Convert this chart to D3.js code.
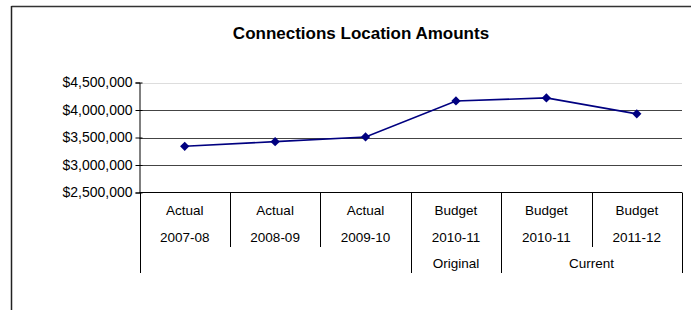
<!DOCTYPE html>
<html>
<head>
<meta charset="utf-8">
<script src="https://cdn.jsdelivr.net/npm/d3@7"></script>
<style>
  body { margin: 0; background: #fff; }
  text { font-family: "Liberation Sans", Arial, sans-serif; fill: #000; }
</style>
</head>
<body>
<script>
const width = 691;
const height = 310;

// data
const types = ["Actual", "Actual", "Actual", "Budget", "Budget", "Budget"];
const years = ["2007-08", "2008-09", "2009-10", "2010-11", "2010-11", "2011-12"];
const groups = ["", "Original", "Current"];
const groupSpans = [3, 1, 2];
const amounts = [3340000, 3425000, 3510000, 4165000, 4220000, 3930000];
const yTicks = [2500000, 3000000, 3500000, 4000000, 4500000];

const margin = { left: 139.5, right: 682, top: 82.5, bottom: 192.5 };

const svg = d3
  .select("body")
  .append("svg")
  .attr("width", width)
  .attr("height", height);

// chart border (only top and left visible)
svg.append("line")
  .attr("x1", 11.5).attr("x2", width).attr("y1", 6.5).attr("y2", 6.5)
  .attr("stroke", "#333").attr("stroke-width", 1.5);
svg.append("line")
  .attr("x1", 11.5).attr("x2", 11.5).attr("y1", 6).attr("y2", height)
  .attr("stroke", "#222").attr("stroke-width", 1.5);

svg.append("text")
  .attr("x", 361)
  .attr("y", 39)
  .attr("text-anchor", "middle")
  .attr("font-size", 17)
  .attr("font-weight", "bold")
  .text("Connections Location Amounts");

const idx = d3.range(amounts.length);
const x = d3.scaleBand().domain(idx).range([margin.left, margin.right]).padding(0);
const y = d3.scaleLinear().domain([2500000, 4500000]).range([margin.bottom, margin.top]);

// gridlines
svg.append("g")
  .selectAll("line")
  .data(yTicks.slice(1))
  .join("line")
  .attr("x1", margin.left)
  .attr("x2", margin.right)
  .attr("y1", (d) => Math.round(y(d)) + 0.5)
  .attr("y2", (d) => Math.round(y(d)) + 0.5)
  .attr("stroke", (d) => (d === 4500000 ? "#ddd" : "#444"));

// y axis
const yAxis = svg.append("g")
  .attr("transform", `translate(${margin.left},0)`)
  .call(
    d3.axisLeft(y)
      .tickValues(yTicks)
      .tickSize(4)
      .tickPadding(4)
      .tickFormat((d) => "$" + d3.format(",")(d))
  );
yAxis.select(".domain").attr("stroke", "#000");
yAxis.selectAll(".tick line").attr("stroke", "#000").attr("x2", -4).attr("x1", 3);
yAxis.selectAll(".tick text")
  .attr("font-size", 14)
  .attr("font-family", "Liberation Sans, Arial, sans-serif")
  .attr("x", -7)
  .attr("dy", "0.3em");

// x axis line
svg.append("line")
  .attr("x1", margin.left).attr("x2", margin.right)
  .attr("y1", margin.bottom).attr("y2", margin.bottom)
  .attr("stroke", "#000");

// category dividers
const boundaries = d3.range(amounts.length + 1);
const bx = (i) => (i === amounts.length ? margin.right : x(i));
const groupEdges = [0];
groupSpans.forEach((s, i) => groupEdges.push(groupEdges[i] + s));

svg.append("g")
  .selectAll("line")
  .data(boundaries)
  .join("line")
  .attr("x1", (d) => Math.round(bx(d)) + 0.5)
  .attr("x2", (d) => Math.round(bx(d)) + 0.5)
  .attr("y1", margin.bottom)
  .attr("y2", (d) => (groupEdges.includes(d) ? 273 : 247))
  .attr("stroke", "#000");

// category labels
const labels = svg.append("g").attr("text-anchor", "middle").attr("font-size", 13.5);
labels.selectAll(".t1")
  .data(types)
  .join("text")
  .attr("x", (d, i) => x(i) + x.bandwidth() / 2)
  .attr("y", 215)
  .text((d) => d);
labels.selectAll(".t2")
  .data(years)
  .join("text")
  .attr("x", (d, i) => x(i) + x.bandwidth() / 2)
  .attr("y", 241.5)
  .text((d) => d);
labels.selectAll(".t3")
  .data(groups)
  .join("text")
  .attr("x", (d, i) => (bx(groupEdges[i]) + bx(groupEdges[i + 1])) / 2)
  .attr("y", 268)
  .text((d) => d);

// series
const line = d3.line()
  .x((d, i) => x(i) + x.bandwidth() / 2)
  .y((d) => y(d));

svg.append("path")
  .datum(amounts)
  .attr("fill", "none")
  .attr("stroke", "#000080")
  .attr("stroke-width", 1.6)
  .attr("d", line);

svg.append("g")
  .selectAll("path")
  .data(amounts)
  .join("path")
  .attr("d", d3.symbol(d3.symbolDiamond2, 55))
  .attr("fill", "#000080")
  .attr("transform", (d, i) => `translate(${x(i) + x.bandwidth() / 2},${y(d)})`);
</script>
</body>
</html>
